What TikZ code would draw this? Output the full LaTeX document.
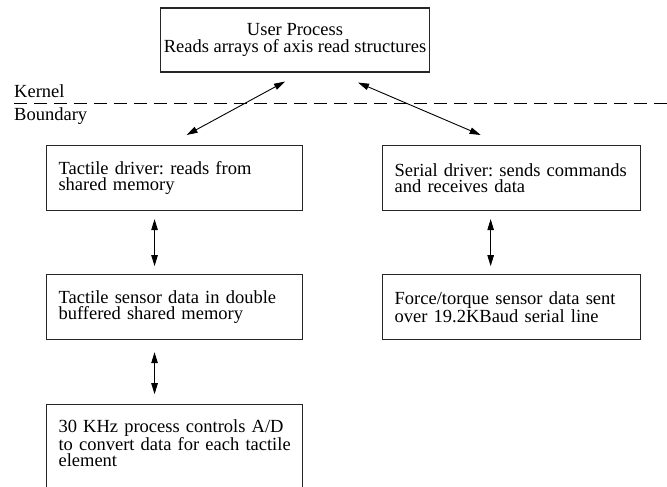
\documentclass[tikz,border=0pt]{standalone}
\usepackage{fontspec}
\setmainfont{Liberation Serif}
\usetikzlibrary{positioning, arrows.meta}
\frenchspacing

\begin{document}
\begin{tikzpicture}[
    x=1pt, y=-1pt,
    node distance = 63pt and 79pt,
    every node/.style = {font=\fontsize{18.5}{16.5}\selectfont},
    box/.style = {draw, line width=1.1pt, black!85, text=black, rectangle,
                  minimum width=256pt, minimum height=65pt, text width=232pt,
                  inner xsep=12pt, align=left},
    wbox/.style = {box, minimum width=258pt, text width=234pt},
    topbox/.style = {draw, line width=1.1pt, black!85, text=black, rectangle,
                     minimum width=238pt, minimum height=64pt, align=center},
    link/.style = {{Triangle[length=11pt,width=6.5pt]}-{Triangle[length=11pt,width=6.5pt]},
                   line width=0.9pt},
    boundary/.style = {dashed, dash pattern=on 13pt off 7pt, line width=0.9pt},
]
\useasboundingbox (0,0) rectangle (667,487);

% user space
\node[topbox] (user) at (295,40) {User Process\\Reads arrays of axis read structures};

% kernel boundary
\node[anchor=base west, inner sep=0pt] (kernel) at (14,98) {Kernel};
\node[anchor=base west, inner sep=0pt] (bound) at (14,121) {Boundary};
\coordinate (kl) at (14,103);
\coordinate (kr) at (667,103);
\draw[boundary] (kl) -- (kr);

% tactile side
\node[box, anchor=north west] (tdrv) at (46,145)
     {\mbox{Tactile driver: reads from}\\\mbox{shared memory}};
\node[box, below=of tdrv] (tmem)
     {\mbox{Tactile sensor data in double}\\\mbox{buffered shared memory}};
\node[box, below=64pt of tmem, text height=24pt, text depth=62pt] (adc)
     {\mbox{30 KHz process controls A/D}\\\mbox{to convert data for each tactile}\\\mbox{element}};

% force/torque side
\node[wbox, right=of tdrv] (sdrv)
     {\mbox{Serial driver: sends commands}\\\mbox{and receives data}};
\node[wbox, below=of sdrv] (ftdata)
     {\mbox{Force/torque sensor data sent}\\\mbox{over 19.2KBaud serial line}};

% Arrows
\draw[link] ([xshift=-10pt,yshift=-9pt]user.south) -- ([xshift=12pt,yshift=10pt]tdrv.north);
\draw[link] ([xshift=63pt,yshift=-10pt]user.south) -- ([xshift=-31pt,yshift=10pt]sdrv.north);
\draw[link] ([xshift=-20pt,yshift=-8pt]tdrv.south) -- ([xshift=-20pt,yshift=8pt]tmem.north);
\draw[link] ([xshift=-20pt,yshift=-12pt]tmem.south) -- ([xshift=-20pt,yshift=10pt]adc.north);
\draw[link] ([xshift=-21pt,yshift=-8pt]sdrv.south) -- ([xshift=-21pt,yshift=8pt]ftdata.north);
\end{tikzpicture}
\end{document}
